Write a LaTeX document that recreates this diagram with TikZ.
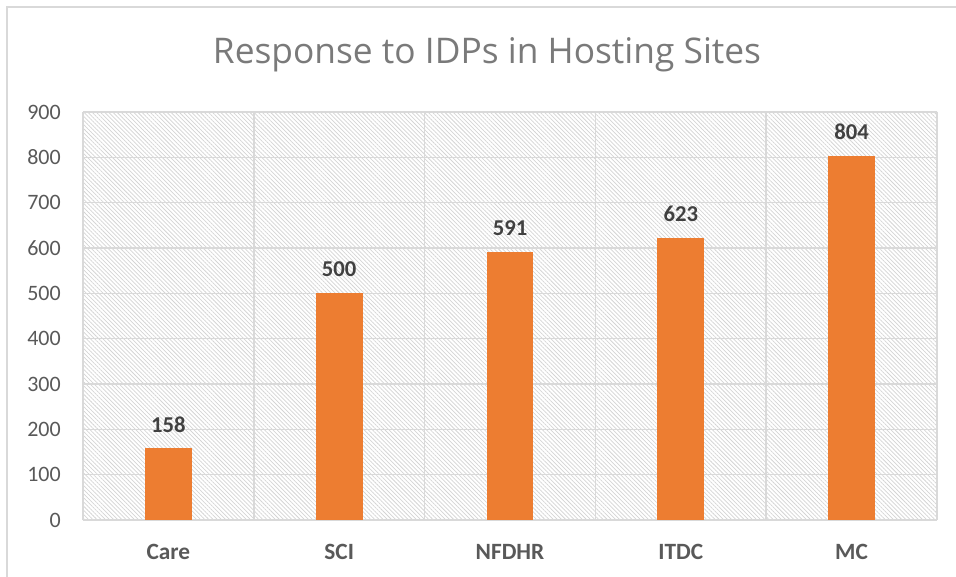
\documentclass[tikz,border=0pt]{standalone}
\usepackage{fontspec}
\setmainfont{Carlito}
\newfontfamily\titlefont{Open Sans}
\usetikzlibrary{patterns.meta}

\definecolor{barorange}{HTML}{ED7D31}
\definecolor{gridgray}{HTML}{D9D9D9}
\definecolor{hatchgray}{HTML}{D4D4D4}
\definecolor{ticktext}{HTML}{595959}
\definecolor{valtext}{HTML}{404040}
\definecolor{titletext}{HTML}{7A7A7A}

\tikzset{
  gridline/.style={draw=gridgray, line width=1.1pt},
  bar/.style={fill=barorange, draw=none},
  ticklabel/.style={text=ticktext, font=\fontsize{16.5}{18}\selectfont, anchor=east, inner sep=0pt},
  vallabel/.style={text=valtext, font=\bfseries\fontsize{17}{19}\selectfont, inner sep=0pt},
  catlabel/.style={text=ticktext, font=\bfseries\fontsize{17.5}{19}\selectfont, anchor=base, inner sep=0pt}
}

\begin{document}
\begin{tikzpicture}[x=0.75pt, y=0.75pt]
  \useasboundingbox (0, 0) rectangle (956, 576);

  % chart frame
  \draw[gridgray, line width=1.2pt] (6.7, -10) -- (6.7, 568.7) -- (970, 568.7);

  \coordinate (origin) at (83, 56);
  \coordinate (topright) at (937, 464);

  % plot area
  \fill[pattern={Lines[angle=-45, distance=2.2pt, line width=0.55pt]}, pattern color=hatchgray]
    (origin) rectangle (topright);
  \foreach \v in {0, 100, ..., 900} {
    \draw[gridline] (83, 56 + 0.4533*\v) -- (937, 56 + 0.4533*\v);
    \node[ticklabel] (tick\v) at (61, 56 + 0.4533*\v) {\v};
  }
  \foreach \i in {0, ..., 5} {
    \draw[gridline] (83 + 170.8*\i, 56) -- (83 + 170.8*\i, 464);
  }

  \node[text=titletext, font=\titlefont\fontsize{26.5}{31}\selectfont, anchor=base] (title) at (487, 512.7)
    {Response to IDPs in Hosting Sites};

  % bars
  \foreach \name/\val [count=\i] in {Care/158, SCI/500, NFDHR/591, ITDC/623, MC/804} {
    \coordinate (c\i) at (83 + 170.8*\i - 85.4, 56);
    \fill[bar] (83 + 170.8*\i - 85.4 - 23.35, 56) rectangle (83 + 170.8*\i - 85.4 + 23.35, 56 + 0.4533*\val);
    \node[vallabel] (val\i) at (83 + 170.8*\i - 85.4, 56 + 0.4533*\val + 24) {\val};
    \node[catlabel] (cat\i) at (83 + 170.8*\i - 85.4, 17) {\name};
  }
\end{tikzpicture}
\end{document}
